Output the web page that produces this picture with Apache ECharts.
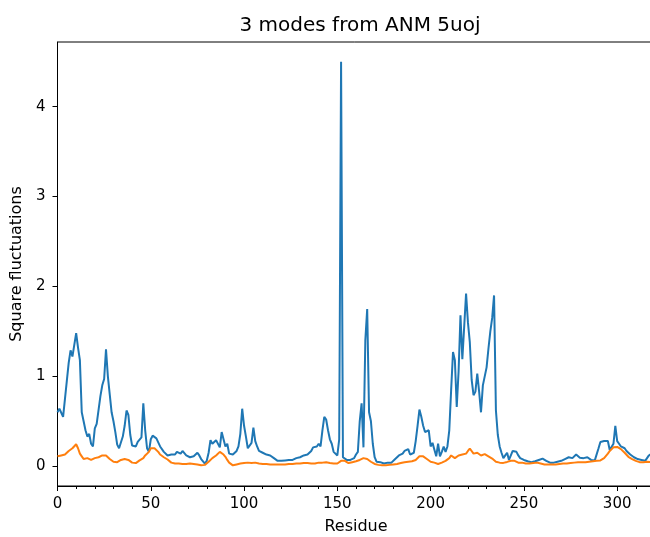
<!DOCTYPE html>
<html>
<head>
<meta charset="utf-8">
<script src="https://cdn.jsdelivr.net/npm/echarts@6/dist/echarts.min.js"></script>
<style>html,body{margin:0;padding:0;background:#fff;}#c{width:650px;height:537px;}</style>
</head>
<body>
<div id="c"></div>
<script>
const titleText = "3 modes from ANM 5uoj";
const xName = "Residue";
const yName = "Square fluctuations";
const yTicks = [0, 1, 2, 3, 4];
const xTickInterval = 50;

const blue = [
0.60,0.64,0.66,0.55,0.75,0.95,1.15,1.29,1.22,1.20,
1.48,1.32,1.18,0.60,0.50,0.40,0.33,0.36,0.25,0.22,
0.42,0.47,0.48,0.78,0.90,0.97,1.30,1.00,0.80,0.60,
0.50,0.38,0.24,0.20,0.22,0.33,0.45,0.62,0.57,0.35,
0.23,0.24,0.22,0.27,0.28,0.32,0.70,0.40,0.20,0.16,
0.30,0.34,0.33,0.31,0.30,0.22,0.20,0.16,0.17,0.12,
0.13,0.13,0.15,0.13,0.16,0.15,0.14,0.17,0.15,0.12,
0.10,0.10,0.10,0.11,0.12,0.15,0.12,0.08,0.06,0.03,
0.06,0.15,0.29,0.25,0.26,0.29,0.28,0.21,0.38,0.40,
0.22,0.25,0.14,0.12,0.13,0.13,0.17,0.22,0.36,0.64,
0.45,0.33,0.20,0.22,0.26,0.43,0.28,0.22,0.17,0.16,
0.15,0.15,0.13,0.12,0.12,0.10,0.09,0.07,0.06,0.06,
0.06,0.07,0.065,0.06,0.07,0.055,0.07,0.08,0.09,0.10,
0.10,0.11,0.12,0.12,0.13,0.15,0.17,0.21,0.20,0.22,
0.25,0.22,0.40,0.55,0.52,0.40,0.30,0.25,0.16,0.14,
0.12,0.30,4.50,0.10,0.08,0.07,0.075,0.07,0.075,0.09,
0.13,0.16,0.50,0.70,0.21,1.40,1.75,0.60,0.50,0.25,
0.10,0.05,0.04,0.045,0.04,0.03,0.035,0.04,0.04,0.04,
0.06,0.08,0.10,0.12,0.13,0.14,0.17,0.17,0.19,0.13,
0.11,0.15,0.28,0.45,0.63,0.55,0.45,0.38,0.37,0.40,
0.22,0.26,0.25,0.11,0.25,0.11,0.16,0.22,0.16,0.22,
0.40,0.85,1.27,1.18,0.66,1.06,1.68,1.19,1.19,1.92,
1.60,1.38,0.96,0.79,0.83,1.03,0.83,0.60,0.90,0.90,
1.10,1.31,1.50,1.65,1.90,0.62,0.35,0.22,0.15,0.09,
0.12,0.15,0.07,0.12,0.17,0.16,0.16,0.12,0.09,0.08,
0.07,0.06,0.055,0.05,0.045,0.05,0.055,0.06,0.07,0.08,
0.085,0.09,0.06,0.045,0.04,0.04,0.04,0.045,0.05,0.055,
0.06,0.07,0.08,0.09,0.10,0.12,0.09,0.10,0.13,0.11,
0.095,0.09,0.09,0.09,0.10,0.08,0.07,0.07,0.065,0.07,
0.20,0.27,0.28,0.28,0.27,0.28,0.18,0.20,0.25,0.45,
0.28,0.25,0.22,0.22,0.20,0.17,0.15,0.13,0.11,0.10,
0.09,0.08,0.07,0.07,0.07,0.06,0.08,0.12,0.14,0.15
];

const orange = [
0.11,0.13,0.12,0.14,0.13,0.15,0.17,0.19,0.20,0.22,
0.245,0.20,0.14,0.11,0.08,0.07,0.09,0.10,0.07,0.06,
0.09,0.11,0.10,0.11,0.12,0.13,0.12,0.10,0.08,0.06,
0.05,0.04,0.045,0.05,0.07,0.085,0.08,0.075,0.07,0.06,
0.04,0.03,0.035,0.05,0.065,0.07,0.09,0.12,0.13,0.16,
0.20,0.215,0.20,0.19,0.16,0.13,0.12,0.10,0.085,0.075,
0.06,0.04,0.035,0.03,0.03,0.03,0.03,0.025,0.025,0.025,
0.025,0.03,0.025,0.025,0.025,0.02,0.015,0.01,0.01,0.015,
0.03,0.05,0.07,0.09,0.11,0.12,0.14,0.16,0.15,0.13,
0.105,0.07,0.04,0.02,0.01,0.015,0.02,0.025,0.03,0.03,
0.035,0.04,0.04,0.035,0.035,0.04,0.04,0.035,0.03,0.025,
0.025,0.025,0.025,0.02,0.02,0.02,0.02,0.02,0.02,0.02,
0.02,0.025,0.02,0.02,0.025,0.025,0.025,0.03,0.03,0.03,
0.03,0.03,0.035,0.03,0.035,0.03,0.03,0.035,0.03,0.035,
0.04,0.035,0.04,0.045,0.045,0.04,0.035,0.03,0.03,0.03,
0.03,0.04,0.06,0.07,0.06,0.04,0.035,0.04,0.045,0.05,
0.055,0.06,0.07,0.09,0.09,0.085,0.08,0.065,0.05,0.035,
0.025,0.02,0.015,0.01,0.01,0.008,0.01,0.012,0.015,0.015,
0.02,0.02,0.025,0.03,0.035,0.04,0.045,0.045,0.05,0.05,
0.055,0.06,0.07,0.09,0.11,0.12,0.11,0.09,0.08,0.07,
0.05,0.045,0.04,0.03,0.025,0.03,0.04,0.05,0.06,0.07,
0.09,0.12,0.11,0.09,0.10,0.12,0.11,0.13,0.14,0.14,
0.17,0.197,0.18,0.14,0.13,0.15,0.14,0.12,0.13,0.135,
0.12,0.11,0.10,0.085,0.07,0.05,0.045,0.04,0.04,0.037,
0.04,0.048,0.05,0.06,0.07,0.06,0.05,0.04,0.045,0.04,
0.035,0.03,0.03,0.03,0.03,0.035,0.035,0.04,0.035,0.03,
0.025,0.02,0.02,0.02,0.02,0.02,0.02,0.02,0.025,0.025,
0.03,0.03,0.03,0.03,0.035,0.035,0.04,0.04,0.045,0.045,
0.045,0.045,0.045,0.045,0.05,0.05,0.05,0.055,0.06,0.06,
0.06,0.065,0.08,0.09,0.11,0.14,0.17,0.19,0.21,0.22,
0.215,0.21,0.19,0.17,0.15,0.13,0.105,0.09,0.08,0.07,
0.06,0.05,0.045,0.04,0.045,0.05,0.05,0.05,0.045,0.045
];

const blueData = blue.map((v, i) => [i, v]);
const orangeData = orange.map((v, i) => [i, v]);

const chart = echarts.init(document.getElementById('c'), null, {renderer: 'canvas'});
const font = 'DejaVu Sans';
chart.setOption({
  animation: false,
  backgroundColor: '#fff',
  title: {
    text: titleText, left: 355, top: 11, textAlign: 'center',
    textStyle: {fontFamily: font, fontSize: 20, fontWeight: 'normal', color: '#000'}
  },
  grid: {left: 57.5, right: -4.5, top: 42, bottom: 51, show: true, borderColor: '#000', borderWidth: 1,
         backgroundColor: 'transparent', containLabel: false, outerBoundsMode: 'none'},
  xAxis: {
    type: 'value', min: 0, max: 320, interval: xTickInterval,
    name: xName, nameLocation: 'middle', nameGap: 33,
    nameTextStyle: {fontFamily: font, fontSize: 16, color: '#000'},
    axisLine: {show: true, onZero: false, lineStyle: {color: '#000', width: 1}},
    axisTick: {show: true, length: 5, lineStyle: {color: '#000'}},
    minorTick: {show: true, splitNumber: 5, length: 3, lineStyle: {color: '#000'}},
    axisLabel: {fontFamily: font, fontSize: 15, color: '#000', margin: 11, showMaxLabel: false},
    splitLine: {show: false}
  },
  yAxis: {
    type: 'value', min: -0.22, max: 4.72,
    name: yName, nameLocation: 'middle', nameGap: 31,
    nameTextStyle: {fontFamily: font, fontSize: 16, color: '#000'},
    axisLine: {show: true, onZero: false, lineStyle: {color: '#000', width: 1}},
    axisTick: {show: true, length: 5, customValues: yTicks, lineStyle: {color: '#000'}},
    axisLabel: {fontFamily: font, fontSize: 15, color: '#000', margin: 12, customValues: yTicks},
    splitLine: {show: false}
  },
  series: [
    {type: 'line', data: blueData, showSymbol: false, symbol: 'none', clip: true,
     lineStyle: {color: '#1f77b4', width: 2}, itemStyle: {color: '#1f77b4'}},
    {type: 'line', data: orangeData, showSymbol: false, symbol: 'none', clip: true,
     lineStyle: {color: '#ff7f0e', width: 2}, itemStyle: {color: '#ff7f0e'}}
  ]
});
</script>
</body>
</html>
